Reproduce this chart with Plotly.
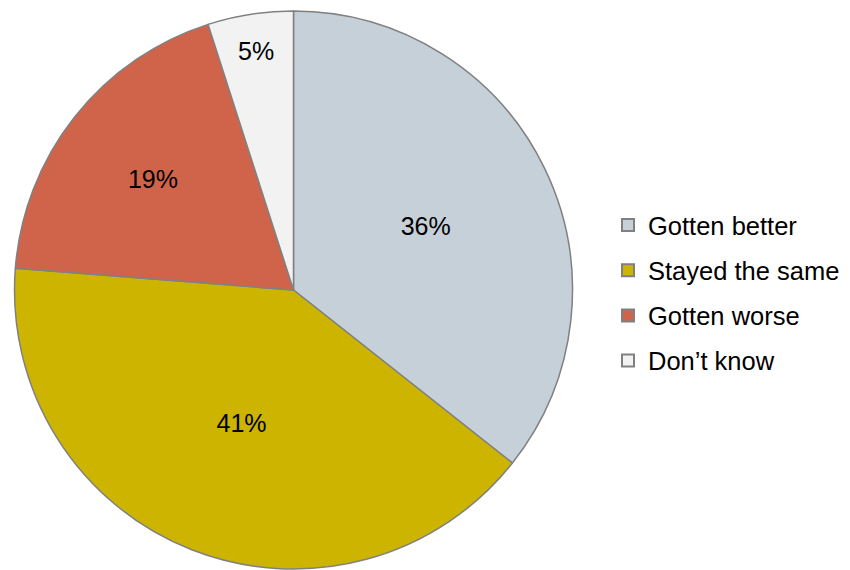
import plotly.graph_objects as go

labels = ["Gotten better", "Stayed the same", "Gotten worse", "Don\u2019t know"]
values = [36, 41, 19, 5]
pct_text = ["36%", "41%", "19%", "5%"]
colors = ["#C5D0D8", "#CCB400", "#D0644A", "#F2F2F2"]

W, H = 850, 570
cx, cy, r = 293.5, 290, 279

fig = go.Figure()
fig.add_trace(go.Pie(
    labels=labels, values=values, text=pct_text, textinfo="text",
    textposition="inside", insidetextorientation="horizontal",
    sort=False, direction="clockwise", rotation=0,
    marker=dict(colors=colors, line=dict(color="#808080", width=1.5)),
    textfont=dict(family="Liberation Sans, Arial", size=25, color="#000000"),
    showlegend=False, hoverinfo="skip",
    domain=dict(x=[(cx - r) / W, (cx + r) / W], y=[1 - (cy + r) / H, 1 - (cy - r) / H]),
))
for i, (lab, col) in enumerate(zip(labels, colors)):
    fig.add_trace(go.Scatter(
        x=[None], y=[None], mode="markers", name=lab, legendgroup=f"g{i}",
        marker=dict(symbol="square", size=14, color=col, line=dict(color="#808080", width=1.5)),
    ))

fig.update_layout(
    width=W, height=H, margin=dict(l=0, r=0, t=0, b=0),
    paper_bgcolor="white", plot_bgcolor="white",
    xaxis=dict(visible=False), yaxis=dict(visible=False),
    legend=dict(x=608 / W, y=1 - 202 / H, xanchor="left", yanchor="top",
                font=dict(family="Liberation Sans, Arial", size=25.5, color="#000000"),
                tracegroupgap=9, traceorder="grouped", itemsizing="constant",
                bgcolor="rgba(0,0,0,0)"),
)
fig.write_html("out.html", config={"displayModeBar": False},
               post_script="document.body.style.margin='0';document.documentElement.style.overflow='hidden';")
